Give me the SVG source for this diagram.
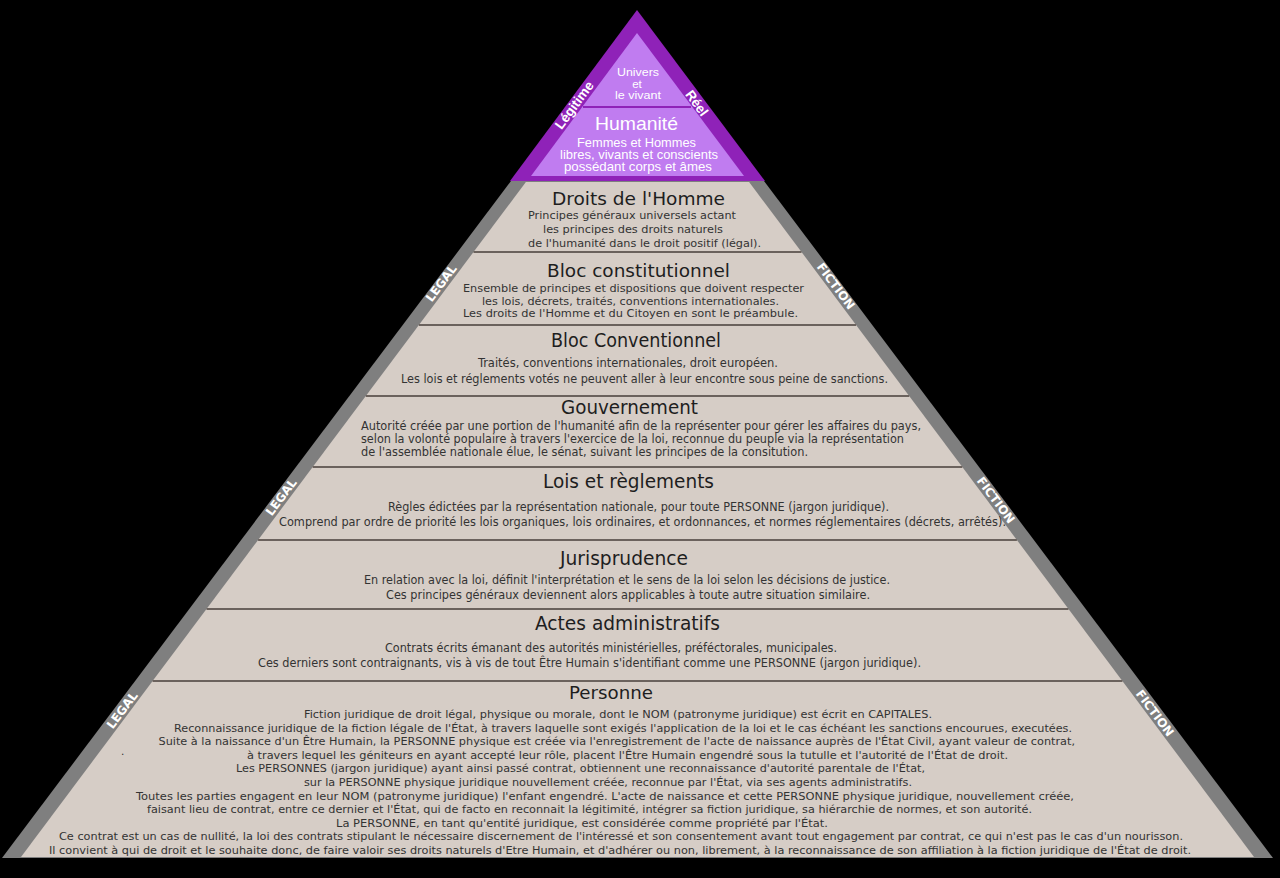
<svg xmlns="http://www.w3.org/2000/svg" width="1280" height="878" viewBox="0 0 1280 878">
<style>
.layer{fill:#d6cdc6}
.sep{stroke:#6b625d;stroke-width:2.2}
.title{font-family:'DejaVu Sans',sans-serif;font-size:18.5px;fill:#1e1e1e;text-anchor:middle}
.body{font-family:'DejaVu Sans',sans-serif;font-size:10.8px;fill:#333;text-anchor:middle}
.ctitle{font-family:'DejaVu Sans Condensed','DejaVu Sans',sans-serif;font-stretch:condensed;font-size:19.5px;fill:#1e1e1e;text-anchor:middle}
.cbody{font-family:'DejaVu Sans Condensed','DejaVu Sans',sans-serif;font-stretch:condensed;font-size:11.5px;fill:#333;text-anchor:middle}
.pbody{font-family:'DejaVu Sans',sans-serif;font-size:10.5px;fill:#333;text-anchor:start}
.band{font-family:'DejaVu Sans',sans-serif;font-weight:bold;font-size:12px;fill:#fff;text-anchor:middle}
.pt{font-family:'Liberation Sans',Arial,sans-serif;fill:#fff;text-anchor:middle}
.pb{font-family:'Liberation Sans',Arial,sans-serif;font-weight:bold;font-size:13.5px;fill:#fff;text-anchor:middle}
</style>
<rect width="1280" height="878" fill="#000"/>

<g id="gray-band">
<polygon points="511,181 764,181 1273,858 2,858" fill="#7f7f7f"/>
<text class="band" transform="translate(441,283) rotate(-53.2)" dy="0.36em">LEGAL</text>
<text class="band" transform="translate(281,497) rotate(-53.2)" dy="0.36em">LEGAL</text>
<text class="band" transform="translate(122,710) rotate(-53.2)" dy="0.36em">LEGAL</text>
<text class="band" transform="translate(836,286) rotate(53.2)" dy="0.36em">FICTION</text>
<text class="band" transform="translate(996,500) rotate(53.2)" dy="0.36em">FICTION</text>
<text class="band" transform="translate(1155,713) rotate(53.2)" dy="0.36em">FICTION</text>
</g>

<g id="sommet">
<polygon points="637,10 510,181 765,181" fill="#8f22b8"/>
<polygon points="637,33 531,176 744,176" fill="#c07cf0"/>
<line x1="583" y1="107" x2="691" y2="107" stroke="#8f22b8" stroke-width="2"/>
<text class="pb" transform="translate(574,105) rotate(-53.7)" dy="0.36em">Légitime</text>
<text class="pb" transform="translate(697,103) rotate(53.7)" dy="0.36em">Réel</text>
<text class="pt" x="638" y="76" font-size="11.5" textLength="42" lengthAdjust="spacingAndGlyphs">Univers</text>
<text class="pt" x="637" y="87.5" font-size="11.5">et</text>
<text class="pt" x="638" y="99" font-size="11.5" textLength="46" lengthAdjust="spacingAndGlyphs">le vivant</text>
<text class="pt" x="636.5" y="130" font-size="18.5" textLength="83" lengthAdjust="spacingAndGlyphs">Humanité</text>
<text class="pt" x="636.5" y="146.5" font-size="12.2" textLength="119" lengthAdjust="spacingAndGlyphs">Femmes et Hommes</text>
<text class="pt" x="639" y="158.8" font-size="12.2" textLength="158" lengthAdjust="spacingAndGlyphs">libres, vivants et conscients</text>
<text class="pt" x="638" y="171" font-size="12.2" textLength="148" lengthAdjust="spacingAndGlyphs">possédant corps et âmes</text>
</g>

<g id="droits-homme">
<polygon class="layer" points="525.9,182 749.1,182 801.5,252 473.5,252"/>
<text class="title" x="638.5" y="205" textLength="173" lengthAdjust="spacingAndGlyphs">Droits de l'Homme</text>
<text class="body" x="632" y="219" textLength="208" lengthAdjust="spacingAndGlyphs">Principes généraux universels actant</text>
<text class="body" x="633" y="233" textLength="180" lengthAdjust="spacingAndGlyphs">les principes des droits naturels</text>
<text class="body" x="644.5" y="247" textLength="233" lengthAdjust="spacingAndGlyphs">de l'humanité dans le droit positif (légal).</text>
</g>

<g id="bloc-constitutionnel">
<polygon class="layer" points="473.5,252 801.5,252 856.1,325 418.9,325"/>
<text class="title" x="638.5" y="277" textLength="183" lengthAdjust="spacingAndGlyphs">Bloc constitutionnel</text>
<text class="body" x="633.5" y="292" textLength="341" lengthAdjust="spacingAndGlyphs">Ensemble de principes et dispositions que doivent respecter</text>
<text class="body" x="630.5" y="304.5" textLength="297" lengthAdjust="spacingAndGlyphs">les lois, décrets, traités, conventions internationales.</text>
<text class="body" x="630.5" y="317" textLength="335" lengthAdjust="spacingAndGlyphs">Les droits de l'Homme et du Citoyen en sont le préambule.</text>
</g>

<g id="bloc-conventionnel">
<polygon class="layer" points="418.9,325 856.1,325 909.2,396 365.8,396"/>
<text class="ctitle" x="636" y="347" textLength="170" lengthAdjust="spacingAndGlyphs">Bloc Conventionnel</text>
<text class="cbody" x="628" y="367" textLength="300" lengthAdjust="spacingAndGlyphs">Traités, conventions internationales, droit européen.</text>
<text class="cbody" x="644.5" y="383" textLength="487" lengthAdjust="spacingAndGlyphs">Les lois et réglements votés ne peuvent aller à leur encontre sous peine de sanctions.</text>
</g>

<g id="gouvernement">
<polygon class="layer" points="365.8,396 909.2,396 962.3,467 312.7,467"/>
<text class="ctitle" x="629.5" y="414" textLength="137" lengthAdjust="spacingAndGlyphs">Gouvernement</text>
<text class="cbody" x="361" y="430" style="text-anchor:start" textLength="560" lengthAdjust="spacingAndGlyphs">Autorité créée par une portion de l'humanité afin de la représenter pour gérer les affaires du pays,</text>
<text class="cbody" x="361" y="443" style="text-anchor:start" textLength="543" lengthAdjust="spacingAndGlyphs">selon la volonté populaire à travers l'exercice de la loi, reconnue du peuple via la représentation</text>
<text class="cbody" x="361" y="456" style="text-anchor:start" textLength="447" lengthAdjust="spacingAndGlyphs">de l'assemblée nationale élue, le sénat, suivant les principes de la consitution.</text>
</g>

<g id="lois-reglements">
<polygon class="layer" points="312.7,467 962.3,467 1016.9,540 258.1,540"/>
<text class="ctitle" x="628.5" y="488" textLength="171" lengthAdjust="spacingAndGlyphs">Lois et règlements</text>
<text class="cbody" x="638.5" y="511" textLength="501" lengthAdjust="spacingAndGlyphs">Règles édictées par la représentation nationale, pour toute PERSONNE (jargon juridique).</text>
<text class="cbody" x="642.5" y="526" textLength="727" lengthAdjust="spacingAndGlyphs">Comprend par ordre de priorité les lois organiques, lois ordinaires, et ordonnances, et normes réglementaires (décrets, arrêtés).</text>
</g>

<g id="jurisprudence">
<polygon class="layer" points="258.1,540 1016.9,540 1068.5,609 206.5,609"/>
<text class="ctitle" x="624" y="565" textLength="128" lengthAdjust="spacingAndGlyphs">Jurisprudence</text>
<text class="cbody" x="627" y="584" textLength="526" lengthAdjust="spacingAndGlyphs">En relation avec la loi, définit l'interprétation et le sens de la loi selon les décisions de justice.</text>
<text class="cbody" x="628" y="599" textLength="484" lengthAdjust="spacingAndGlyphs">Ces principes généraux deviennent alors applicables à toute autre situation similaire.</text>
</g>

<g id="actes-administratifs">
<polygon class="layer" points="206.5,609 1068.5,609 1122.4,681 152.6,681"/>
<text class="ctitle" x="627.5" y="630" textLength="185" lengthAdjust="spacingAndGlyphs">Actes administratifs</text>
<text class="cbody" x="611" y="652" textLength="452" lengthAdjust="spacingAndGlyphs">Contrats écrits émanant des autorités ministérielles, préféctorales, municipales.</text>
<text class="cbody" x="589.5" y="667" textLength="663" lengthAdjust="spacingAndGlyphs">Ces derniers sont contraignants, vis à vis de tout Être Humain s'identifiant comme une PERSONNE (jargon juridique).</text>
</g>

<g id="personne">
<polygon class="layer" points="152.6,681 1122.4,681 1254,857 21,857"/>
<text class="title" x="611" y="699" textLength="84" lengthAdjust="spacingAndGlyphs">Personne</text>
<text class="pbody" x="304" y="718" textLength="628" lengthAdjust="spacingAndGlyphs">Fiction juridique de droit légal, physique ou morale, dont le NOM (patronyme juridique) est écrit en CAPITALES.</text>
<text class="pbody" x="174" y="731.6" textLength="898" lengthAdjust="spacingAndGlyphs">Reconnaissance juridique de la fiction légale de l'État, à travers laquelle sont exigés l'application de la loi et le cas échéant les sanctions encourues, executées.</text>
<text class="pbody" x="158.5" y="745.2" textLength="916.5" lengthAdjust="spacingAndGlyphs">Suite à la naissance d'un Être Humain, la PERSONNE physique est créée via l'enregistrement de l'acte de naissance auprès de l'État Civil, ayant valeur de contrat,</text>
<text class="pbody" x="247" y="758.8" textLength="761" lengthAdjust="spacingAndGlyphs">à travers lequel  les géniteurs en ayant accepté leur rôle, placent l'Être Humain engendré sous la tutulle et l'autorité de l'État de droit.</text>
<text class="pbody" x="236" y="772.4" textLength="689" lengthAdjust="spacingAndGlyphs">Les PERSONNES (jargon juridique) ayant ainsi passé contrat, obtiennent une reconnaissance d'autorité parentale de l'État,</text>
<text class="pbody" x="304" y="786" textLength="608" lengthAdjust="spacingAndGlyphs">sur la PERSONNE physique juridique nouvellement créée, reconnue par l'État, via ses agents administratifs.</text>
<text class="pbody" x="136" y="799.6" textLength="938" lengthAdjust="spacingAndGlyphs">Toutes les parties engagent en leur NOM (patronyme juridique) l'enfant engendré. L'acte de naissance et cette PERSONNE physique juridique, nouvellement créée,</text>
<text class="pbody" x="147" y="813.2" textLength="885" lengthAdjust="spacingAndGlyphs">faisant lieu de contrat, entre ce dernier et l'État, qui de facto en reconnait la légitimité, intégrer sa fiction juridique, sa hiérarchie de normes, et son autorité.</text>
<text class="pbody" x="336" y="826.8" textLength="492" lengthAdjust="spacingAndGlyphs">La PERSONNE, en tant qu'entité juridique, est considérée comme propriété par l'État.</text>
<text class="pbody" x="59" y="840.4" textLength="1124" lengthAdjust="spacingAndGlyphs">Ce contrat est un cas de nullité, la loi des contrats stipulant le nécessaire discernement de l'intéressé et son consentement avant tout engagement par contrat, ce qui n'est pas le cas d'un nourisson.</text>
<text class="pbody" x="49" y="854" textLength="1142" lengthAdjust="spacingAndGlyphs">Il convient à qui de droit et le souhaite donc, de faire valoir ses droits naturels d'Etre Humain, et d'adhérer ou non, librement, à la reconnaissance de son affiliation à la fiction juridique de l'État de droit.</text>
<text class="pbody" x="121" y="755">.</text>
</g>

<g id="separateurs">
<line class="sep" x1="473.5" y1="252" x2="801.5" y2="252"/>
<line class="sep" x1="418.9" y1="325" x2="856.1" y2="325"/>
<line class="sep" x1="365.8" y1="396" x2="909.2" y2="396"/>
<line class="sep" x1="312.7" y1="467" x2="962.3" y2="467"/>
<line class="sep" x1="258.1" y1="540" x2="1016.9" y2="540"/>
<line class="sep" x1="206.5" y1="609" x2="1068.5" y2="609"/>
<line class="sep" x1="152.6" y1="681" x2="1122.4" y2="681"/>
</g>
</svg>
